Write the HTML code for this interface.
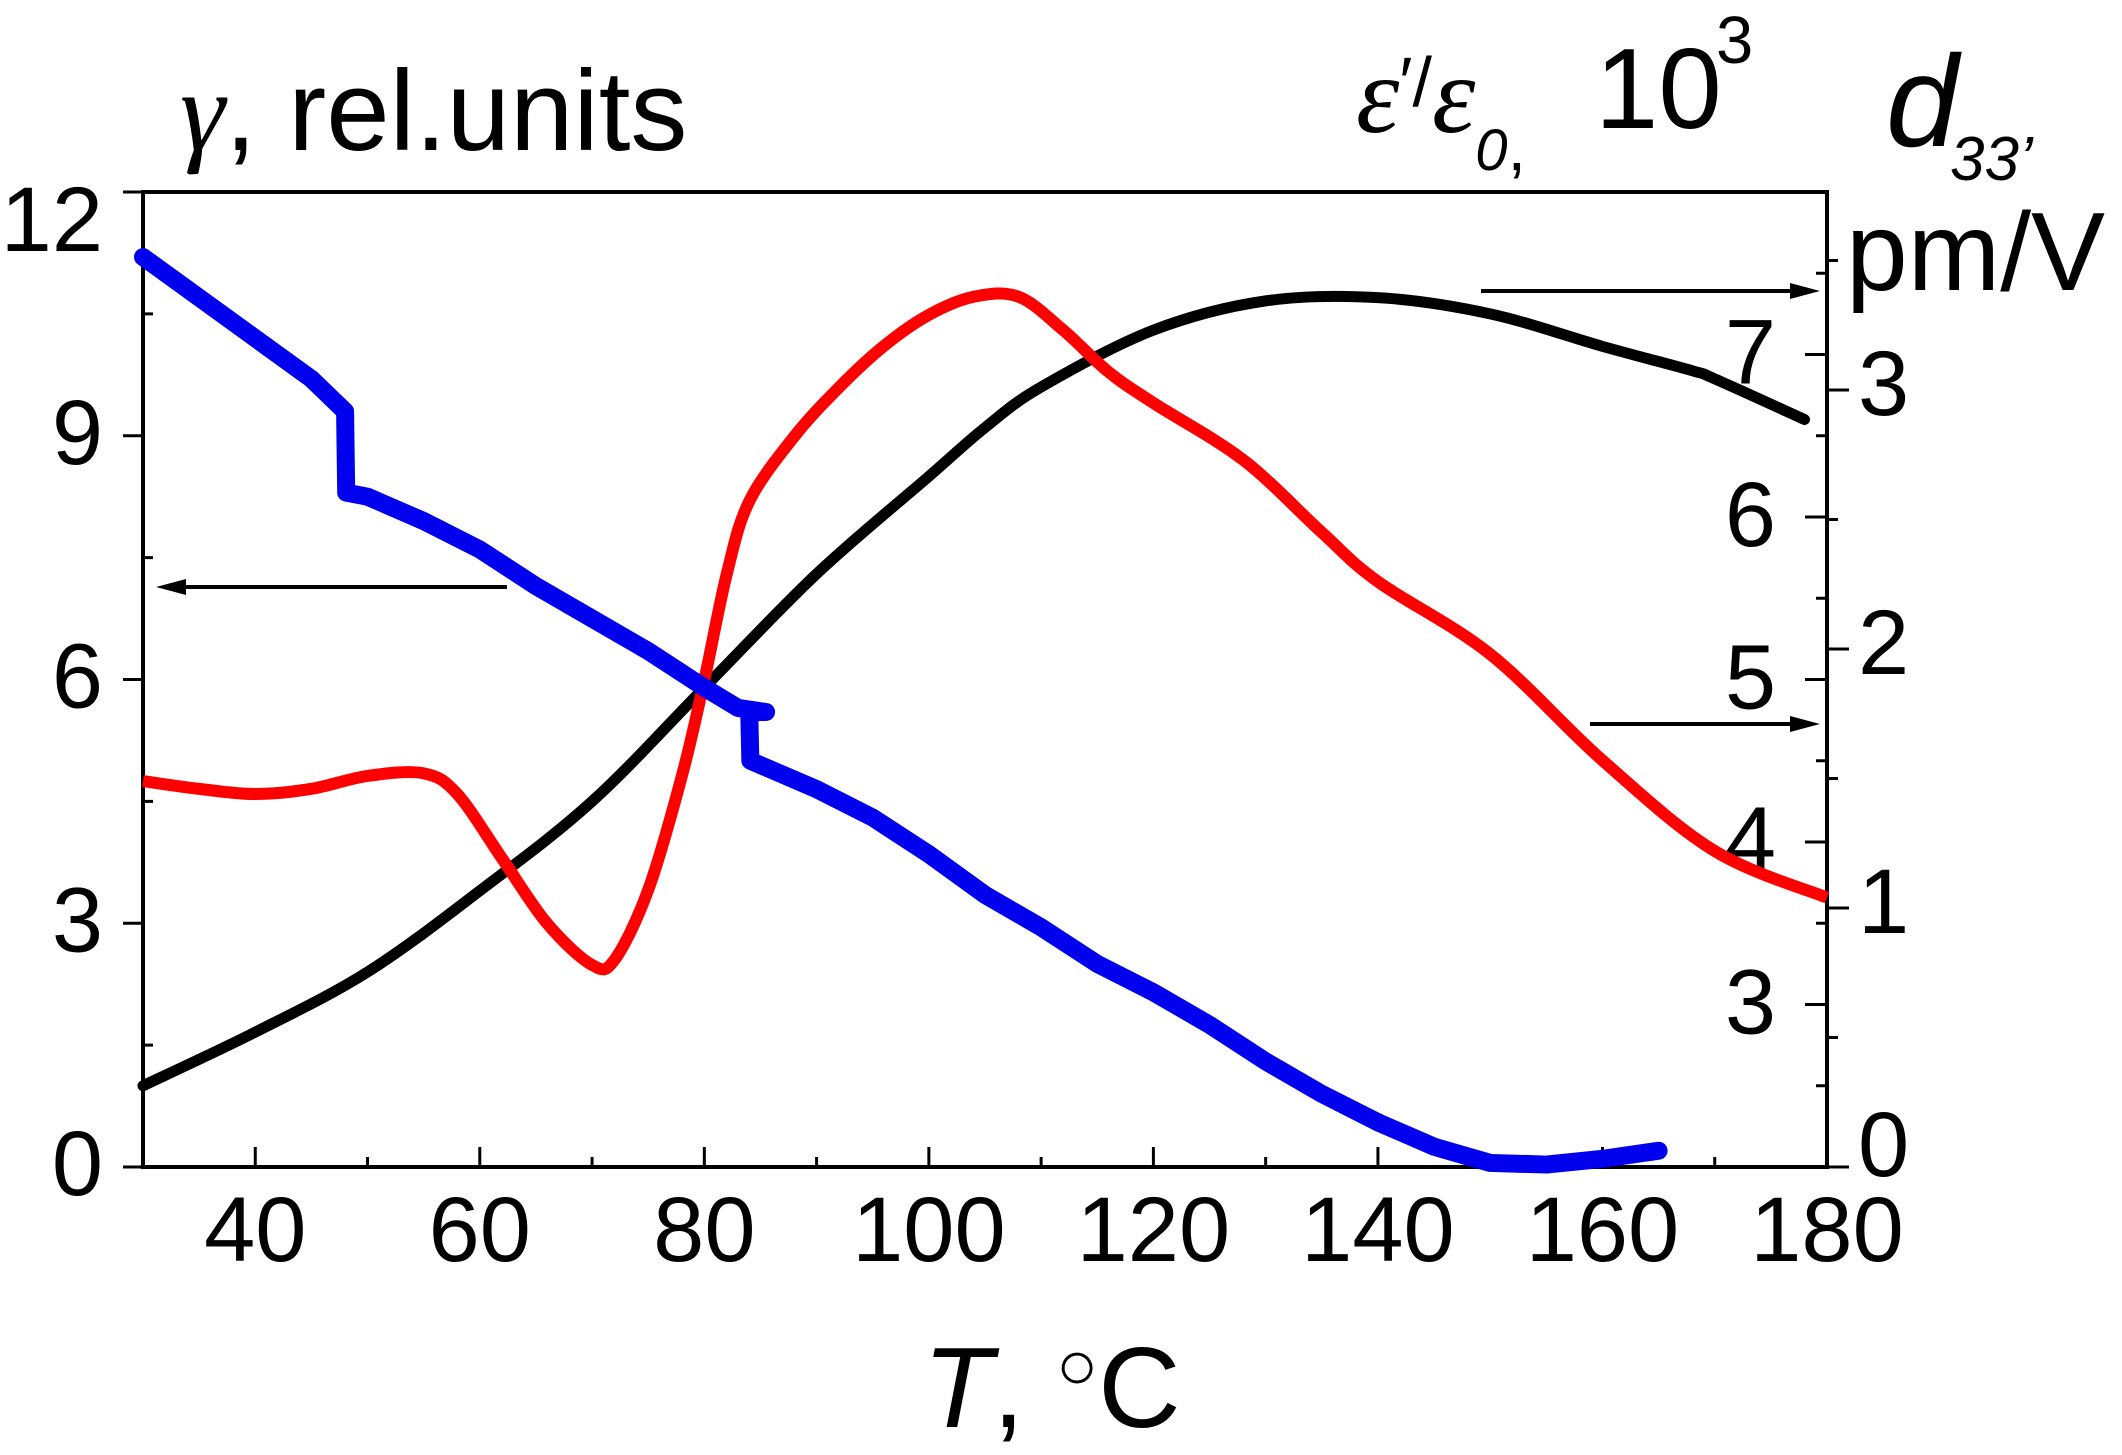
<!DOCTYPE html>
<html><head><meta charset="utf-8"><style>
html,body{margin:0;padding:0;background:#fff;}
svg{display:block;}
text{font-family:"Liberation Sans",Arial,sans-serif;fill:#000;}
</style></head><body>
<svg id="chart" width="2122" height="1455" viewBox="0 0 2122 1455" xmlns="http://www.w3.org/2000/svg">
<g id="axes"></g>
<g id="series"></g>
<g id="labels">
  <text x="180" y="150" font-size="114"><tspan font-family="Liberation Serif, serif" font-style="italic">γ</tspan>, rel.units</text>
  <text x="1356" y="132" font-size="110"><tspan font-family="Liberation Serif, serif" font-style="italic">ε</tspan><tspan font-size="70" dy="-26">′/</tspan><tspan font-family="Liberation Serif, serif" font-style="italic" dy="26">ε</tspan><tspan font-size="58" font-style="italic" dy="38">0</tspan><tspan font-size="66">,</tspan></text>
  <text x="1595" y="128" font-size="114">10</text>
  <text x="1716" y="63" font-size="67">3</text>
  <text x="1886" y="146" font-size="130" font-style="italic">d</text>
  <text x="1950" y="180" font-size="62" font-style="italic">33’</text>
  <text x="1846" y="290" font-size="111">pm/V</text>
  <text x="923" y="1427" font-size="114"><tspan font-style="italic">T</tspan>, <tspan font-size="70" dy="-38">○</tspan><tspan dy="38">C</tspan></text>
</g>
</svg>
<script>
// Temperature axis (°C)
const xTicks = [40, 60, 80, 100, 120, 140, 160, 180];
const xMinorTicks = [30, 50, 70, 90, 110, 130, 150, 170];
const gammaTicks = [0, 3, 6, 9, 12];
const gammaMinor = [1.5, 4.5, 7.5, 10.5];
const epsTicks = [3, 4, 5, 6, 7];
const epsMinor = [2.5, 3.5, 4.5, 5.5, 6.5, 7.5];
const d33Ticks = [0, 1, 2, 3];
const d33Minor = [0.5, 1.5, 2.5, 3.5];

// Black curve: ε'/ε0 (10^3)
const epsT = [30, 40, 50, 60, 70, 80, 90, 100, 105, 110, 120, 130, 140, 150, 160, 168, 170, 178];
const epsV = [2.5, 2.83, 3.2, 3.7, 4.25, 4.95, 5.65, 6.25, 6.55, 6.8, 7.15, 7.33, 7.35, 7.25, 7.05, 6.9, 6.85, 6.6];

// Red curve: d33 (pm/V)
const d33T = [30, 35, 40, 45, 50, 55, 58, 62, 66, 70, 72, 75, 78, 80, 82, 84, 88, 92, 96, 100, 104, 108, 112, 116, 120, 128, 135, 140, 150, 160, 170, 180];
const d33V = [1.49, 1.46, 1.44, 1.46, 1.51, 1.52, 1.44, 1.19, 0.94, 0.78, 0.80, 1.07, 1.51, 1.88, 2.29, 2.57, 2.82, 3.01, 3.17, 3.29, 3.36, 3.36, 3.23, 3.07, 2.95, 2.73, 2.45, 2.26, 1.98, 1.57, 1.22, 1.04];

// Blue curve: γ (rel. units)
const gamT = [30, 35, 40, 45, 48, 48.1, 50, 55, 60, 65, 70, 75, 80, 83, 85.5, 84, 84.1, 90, 95, 100, 105, 110, 115, 120, 125, 130, 135, 140, 145, 150, 155, 160, 165];
const gamV = [11.2, 10.7, 10.2, 9.7, 9.3, 8.3, 8.25, 7.95, 7.6, 7.15, 6.75, 6.35, 5.9, 5.65, 5.6, 5.6, 5.0, 4.65, 4.3, 3.85, 3.35, 2.95, 2.5, 2.15, 1.75, 1.3, 0.9, 0.55, 0.25, 0.05, 0.03, 0.1, 0.2];

const L = 143, R = 1827, TOP = 192, BOT = 1167;
const xS = t => L + (t - 30) * (R - L) / 150;
const yG = g => BOT - g * (BOT - TOP) / 12;
const yE = e => BOT - (e - 2) * (BOT - TOP) / 6;
const yD = d => BOT - d * 259;

const NS = "http://www.w3.org/2000/svg";
const axes = document.getElementById('axes');
const series = document.getElementById('series');
function mk(tag, attrs, parent) {
  const el = document.createElementNS(NS, tag);
  for (const k in attrs) el.setAttribute(k, attrs[k]);
  parent.appendChild(el);
  return el;
}
function line(x1, y1, x2, y2, w, name) {
  const el = mk('line', {x1, y1, x2, y2, stroke: '#000', 'stroke-width': w}, axes);
  
  
  return el;
}
function label(x, y, txt, anchor, name) {
  const el = mk('text', {x, y, 'font-size': 92, 'text-anchor': anchor, 'dominant-baseline': 'central'}, axes);
  el.textContent = txt;
  
  
}
// frame
const frame = mk('rect', {x: L, y: TOP, width: R - L, height: BOT - TOP, fill: 'none', stroke: '#000', 'stroke-width': 4}, axes);



xTicks.forEach(t => { line(xS(t), BOT, xS(t), BOT - 20, 3, 'x-tick'); label(xS(t), BOT + 63, String(t), 'middle', 'x-tick-label'); });
xMinorTicks.forEach(t => line(xS(t), BOT, xS(t), BOT - 10, 3, 'x-minor-tick'));
gammaTicks.forEach(g => { line(L, yG(g), L - 20, yG(g), 3, 'y-left-tick'); label(103, yG(g) + (g === 12 ? 28 : -3), String(g), 'end', 'y-left-tick-label'); });
gammaMinor.forEach(g => line(L, yG(g), L + 10, yG(g), 3, 'y-left-minor-tick'));
epsTicks.forEach(e => { line(R, yE(e), R - 22, yE(e), 3, 'y-eps-tick'); label(1776, yE(e) - 2, String(e), 'end', 'y-eps-tick-label'); });
epsMinor.forEach(e => line(R, yE(e), R - 11, yE(e), 3, 'y-eps-minor-tick'));
d33Ticks.forEach(d => { line(R, yD(d), R + 22, yD(d), 3, 'y-d33-tick'); label(1858, yD(d) - (d === 0 ? 22 : 6), String(d), 'start', 'y-d33-tick-label'); });
d33Minor.forEach(d => line(R, yD(d), R + 11, yD(d), 3, 'y-d33-minor-tick'));

function smooth(pts) {
  let d = `M${pts[0][0]},${pts[0][1]}`;
  for (let i = 0; i < pts.length - 1; i++) {
    const p0 = pts[Math.max(0, i - 1)], p1 = pts[i], p2 = pts[i + 1], p3 = pts[Math.min(pts.length - 1, i + 2)];
    const c1 = [p1[0] + (p2[0] - p0[0]) / 6, p1[1] + (p2[1] - p0[1]) / 6];
    const c2 = [p2[0] - (p3[0] - p1[0]) / 6, p2[1] - (p3[1] - p1[1]) / 6];
    d += ` C${c1[0]},${c1[1]} ${c2[0]},${c2[1]} ${p2[0]},${p2[1]}`;
  }
  return d;
}
const blackPath = mk('path', {d: smooth(epsT.map((t, i) => [xS(t), yE(epsV[i])])), fill: 'none', stroke: '#000', 'stroke-width': 11, 'stroke-linecap': 'round'}, series);


const redPath = mk('path', {d: smooth(d33T.map((t, i) => [xS(t), yD(d33V[i])])), fill: 'none', stroke: '#ff0000', 'stroke-width': 12}, series);


const bluePath = mk('path', {d: 'M' + gamT.map((t, i) => `${xS(t)},${yG(gamV[i])}`).join(' L'), fill: 'none', stroke: '#0000ee', 'stroke-width': 18, 'stroke-linejoin': 'round', 'stroke-linecap': 'round'}, series);



function arrow(x1, x2, y, name) {
  const g = mk('g', {}, axes);
  
  
  mk('line', {x1, y1: y, x2: x2 - Math.sign(x2 - x1) * 20, y2: y, stroke: '#000', 'stroke-width': 4}, g);
  const s = Math.sign(x2 - x1);
  mk('polygon', {points: `${x2},${y} ${x2 - s * 30},${y - 8} ${x2 - s * 30},${y + 8}`, fill: '#000'}, g);
}
arrow(507, 156, 587, 'gamma-axis-arrow');
arrow(1481, 1820, 291, 'eps-axis-arrow');
arrow(1590, 1820, 724, 'd33-axis-arrow');
</script>
</body></html>
